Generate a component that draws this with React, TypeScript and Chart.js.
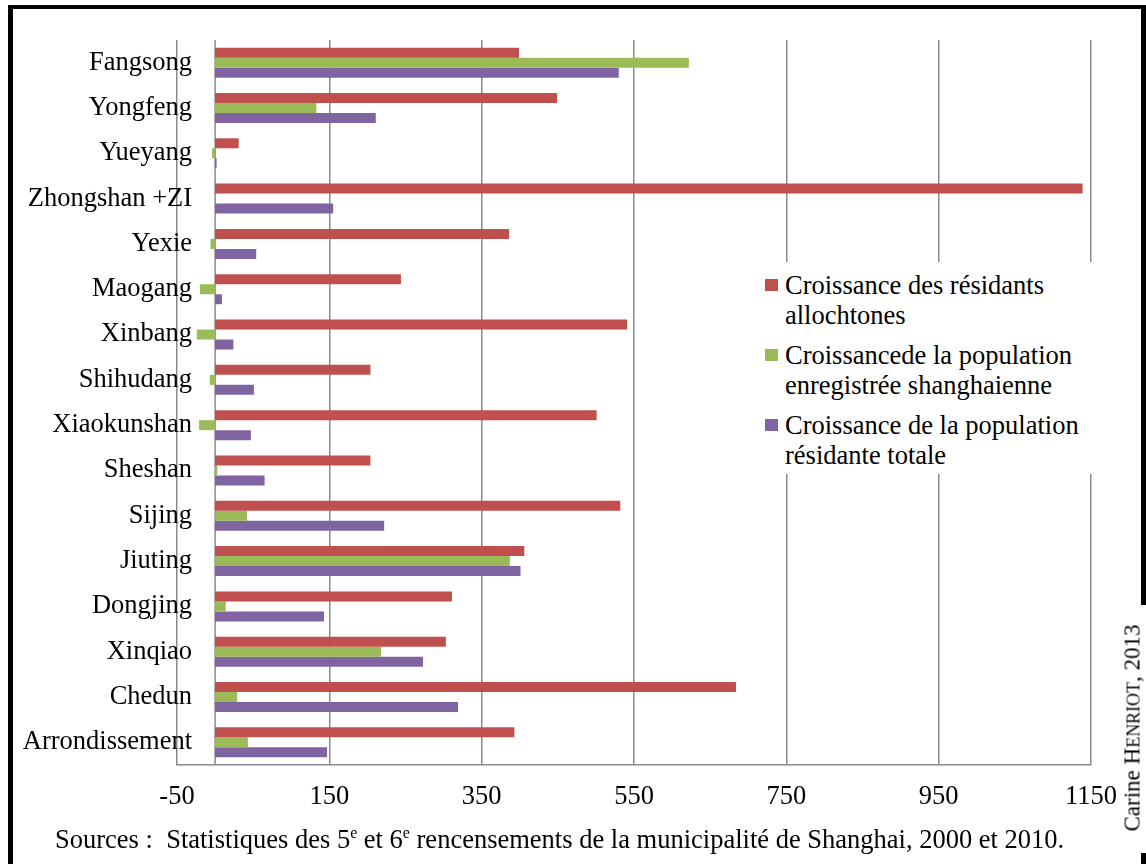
import React, { useEffect, useRef } from 'react';
import { Chart, registerables } from 'chart.js';

Chart.register(...registerables);

const categories = [
  'Fangsong', 'Yongfeng', 'Yueyang', 'Zhongshan +ZI', 'Yexie', 'Maogang', 'Xinbang', 'Shihudang',
  'Xiaokunshan', 'Sheshan', 'Sijing', 'Jiuting', 'Dongjing', 'Xinqiao', 'Chedun', 'Arrondissement',
];
const allochtones = [399, 449, 31, 1139, 386, 244, 541, 204, 501, 204, 532, 406, 311, 303, 684, 393];
const enregistree = [622, 133, -4, 0, -6, -20, -24, -7, -21, 3, 42, 387, 14, 218, 29, 43];
const totale = [530, 211, 2, 155, 54, 9, 24, 51, 47, 65, 222, 401, 143, 273, 319, 147];

const seriesLabels = [
  ['Croissance des résidants', 'allochtones'],
  ['Croissancede la population', 'enregistrée shanghaienne'],
  ['Croissance de la population', 'résidante totale'],
];
const seriesColors = ['#C0504D', '#9BBB59', '#8064A2'];

const xMin = -50;
const xMax = 1150;
const xStep = 200;

const FONT = '"Liberation Serif", "Times New Roman", serif';
const FS = 26.5;
const GRID = '#8a8a8a';

const zeroLine = {
  id: 'zeroLine',
  beforeDatasetsDraw(chart: any) {
    const { ctx, chartArea, scales } = chart;
    const x = scales.x.getPixelForValue(0);
    ctx.save();
    ctx.strokeStyle = GRID;
    ctx.lineWidth = 1.5;
    ctx.beginPath();
    ctx.moveTo(x, chartArea.top);
    ctx.lineTo(x, chartArea.bottom);
    ctx.stroke();
    ctx.restore();
  },
};

// category labels drawn next to the value-0 axis (they overhang the plot's left edge, as in the original)
const categoryLabels = {
  id: 'categoryLabels',
  afterDraw(chart: any) {
    const { ctx, scales } = chart;
    const y = scales.y;
    const xRight = scales.x.getPixelForValue(0) - 23;
    ctx.save();
    ctx.fillStyle = '#000';
    ctx.font = `${FS}px ${FONT}`;
    ctx.textAlign = 'right';
    ctx.textBaseline = 'middle';
    (chart.data.labels as string[]).forEach((lab, i) => {
      ctx.fillText(lab, xRight, y.getPixelForValue(i));
    });
    ctx.restore();
  },
};

export default function App() {
  const ref = useRef<HTMLCanvasElement | null>(null);

  useEffect(() => {
    if (!ref.current) return;
    const data = [allochtones, enregistree, totale];
    const chart = new Chart(ref.current, {
      type: 'bar',
      data: {
        labels: categories,
        datasets: data.map((d, i) => ({
          label: seriesLabels[i].join(' '),
          data: d,
          backgroundColor: seriesColors[i],
          borderWidth: 0,
          categoryPercentage: 0.662,
          barPercentage: 1,
        })),
      },
      options: {
        indexAxis: 'y',
        responsive: false,
        animation: false,
        layout: { padding: { left: 0, right: 55, top: 40, bottom: 0 } },
        plugins: { legend: { display: false }, tooltip: { enabled: false } },
        scales: {
          x: {
            min: xMin,
            max: xMax,
            afterFit: (s: any) => { s.height = 99; },
            ticks: {
              stepSize: xStep,
              color: '#000',
              font: { family: FONT, size: FS },
              padding: 16,
              callback: (v: any) => String(v),
            },
            grid: { color: GRID, lineWidth: 1.5, drawTicks: false },
            border: { display: true, color: GRID, width: 1.5 },
          },
          y: {
            afterFit: (s: any) => { s.width = 177; },
            ticks: { display: false },
            grid: { display: false, drawTicks: false },
            border: { display: false },
          },
        },
      },
      plugins: [zeroLine, categoryLabels],
    });
    return () => chart.destroy();
  }, []);

  return (
    <div style={{ position: 'absolute', left: 0, top: 0, width: 1146, height: 864, background: '#fff', overflow: 'hidden', fontFamily: FONT, color: '#000' }}>
      <canvas ref={ref} width={1146} height={864} style={{ position: 'absolute', left: 0, top: 0, width: 1146, height: 864 }} />
      {/* frame */}
      <div style={{ position: 'absolute', left: 8, top: 5, width: 1138, height: 4, background: '#000' }} />
      <div style={{ position: 'absolute', left: 8, top: 5, width: 5, height: 859, background: '#000' }} />
      <div style={{ position: 'absolute', left: 1141, top: 5, width: 5, height: 600, background: '#000' }} />
      <div style={{ position: 'absolute', left: 1141, top: 853, width: 5, height: 11, background: '#000' }} />
      {/* legend */}
      <div style={{ position: 'absolute', left: 757, top: 262, width: 340, height: 212, background: '#fff' }}>
        {seriesLabels.map((lines, i) => (
          <div key={i} style={{ position: 'absolute', left: 0, top: 8 + i * 70 }}>
            <div style={{ position: 'absolute', left: 8, top: 9, width: 13, height: 12, background: seriesColors[i] }} />
            <div style={{ position: 'absolute', left: 28, top: 0, fontSize: FS, lineHeight: '30px', whiteSpace: 'nowrap' }}>
              {lines.map((l, j) => <div key={j}>{l}</div>)}
            </div>
          </div>
        ))}
      </div>
      {/* source */}
      <div style={{ position: 'absolute', left: 55, top: 824, fontSize: FS, lineHeight: '30px', whiteSpace: 'nowrap' }}>
        Sources :&nbsp; Statistiques des 5<sup style={{ fontSize: '0.6em', lineHeight: 0 }}>e</sup> et 6<sup style={{ fontSize: '0.6em', lineHeight: 0 }}>e</sup> rencensements de la municipalité de Shanghai, 2000 et 2010.
      </div>
      {/* author */}
      <div style={{ position: 'absolute', left: 1133, top: 728, width: 0, height: 0 }}>
        <div style={{ position: 'absolute', left: 0, top: 0, transform: 'translate(-50%, -50%) rotate(-90deg)', fontSize: 23, lineHeight: '24px', whiteSpace: 'nowrap' }}>
          Carine H<span style={{ fontSize: '0.78em' }}>ENRIOT</span>, 2013
        </div>
      </div>
    </div>
  );
}
